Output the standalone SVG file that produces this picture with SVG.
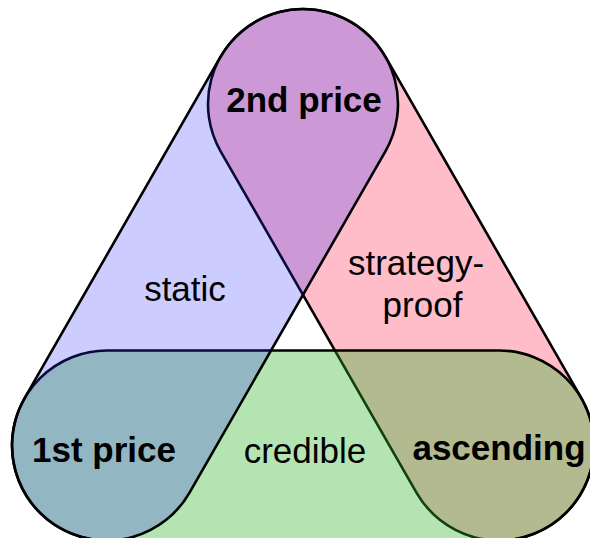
<svg xmlns="http://www.w3.org/2000/svg" width="590" height="538" viewBox="0 0 590 538">
  <style>
    .cap { stroke: #000; stroke-width: 2.6; }
    .pink { fill: #FF0033; fill-opacity: 0.26; }
    .green { fill: #2CB428; fill-opacity: 0.36; }
    .blue { fill: #2929FF; fill-opacity: 0.24; }
    text { font-family: "Liberation Sans", Arial, Helvetica, sans-serif; font-size: 35px; fill: #000; text-anchor: middle; }
    .b { font-weight: bold; }
  </style>
  <rect width="590" height="538" fill="#fff"/>
  <g id="strategy-proof-set">
    <rect class="cap pink" x="-291.875" y="-95" width="583.75" height="190" rx="95" transform="translate(401 274.75) rotate(60.15)"/>
  </g>
  <g id="credible-set">
    <rect class="cap green" x="12" y="350.5" width="582" height="190" rx="95"/>
  </g>
  <g id="static-set">
    <rect class="cap blue" x="-291.875" y="-95" width="583.75" height="190" rx="95" transform="translate(205 274.75) rotate(-60.15)"/>
  </g>
  <g id="labels">
    <g id="node-2nd-price"><text class="b" x="304" y="112">2nd price</text></g>
    <g id="node-1st-price"><text class="b" x="104" y="462">1st price</text></g>
    <g id="node-ascending"><text class="b" x="499" y="460">ascending</text></g>
    <g id="label-static"><text x="185" y="301">static</text></g>
    <g id="label-strategy-proof"><text x="416" y="275">strategy-</text><text x="422.5" y="317">proof</text></g>
    <g id="label-credible"><text x="305" y="463">credible</text></g>
  </g>
</svg>
